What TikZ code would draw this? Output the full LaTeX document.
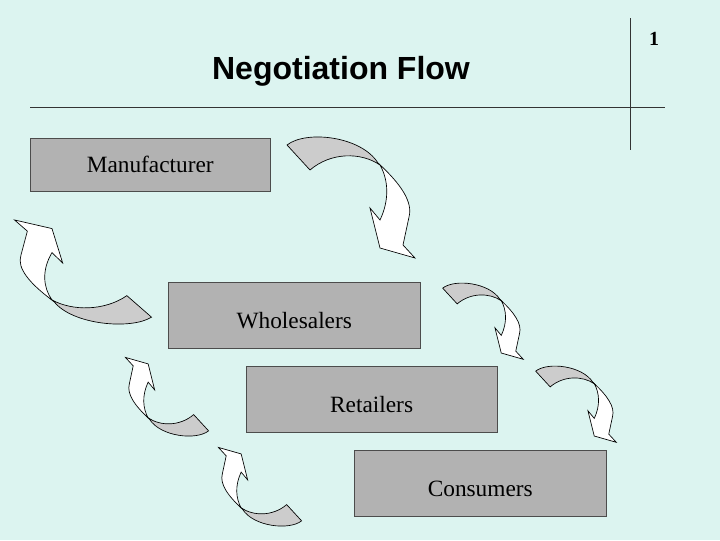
\documentclass[tikz,border=0pt]{standalone}
\usepackage{fontspec}
\setmainfont{Liberation Serif}
\newfontfamily\titlefont{Liberation Sans}
\begin{document}
\begin{tikzpicture}[x=0.75pt,y=-0.75pt,
  box/.style={draw=black!70,fill=black!30,minimum width=#1,anchor=north west,inner sep=0pt},
  lbl/.style={font=\fontsize{17.5}{20}\selectfont},
  ar/.style={draw=black,line width=0.5pt}]
\definecolor{bg}{RGB}{220,244,240}
\fill[bg] (0,0) rectangle (720,540);
\useasboundingbox (0,0) rectangle (720,540);
\newcommand{\curvarrow}{%
  \fill[white,ar] (27,-31) .. controls (50,-10) and (62,8) .. (58,23) -- (52,51) -- (64,64) -- (29,54) -- (19,14) -- (29,26) .. controls (39,5) and (37,-15) .. (29,-29) -- cycle;
  \fill[black!20,ar] (-64,-49) .. controls (-45,-64) and (10,-58) .. (27,-31) -- (29,-29) .. controls (10,-42) and (-20,-42) .. (-41,-24) -- cycle;}
\node[box=180pt,minimum height=39.75pt] (m) at (30,138) {};
\node[lbl] at (m.center) {Manufacturer};
\node[box=189pt,minimum height=49.5pt] (w) at (168,282) {};
\node[lbl] at ([yshift=-4pt]w.center) {Wholesalers};
\node[box=188pt,minimum height=49.5pt] (r) at (246,366) {};
\node[lbl] at ([yshift=-4pt]r.center) {Retailers};
\node[box=189pt,minimum height=49.5pt] (c) at (354,450) {};
\node[lbl] at ([yshift=-4pt]c.center) {Consumers};
\node[font=\titlefont\bfseries\fontsize{24}{28}\selectfont] (t) at (341,71) {Negotiation Flow};
\node[font=\bfseries\fontsize{15}{18}\selectfont] (n) at (654,39) {1};
\draw[black!80] (30,107) -- (665,107);
\draw[black!80] (630,18) -- (630,150);
\begin{scope}[shift={(351,194)}]\curvarrow\end{scope}
\begin{scope}[shift={(483,319)},scale=0.63]\curvarrow\end{scope}
\begin{scope}[shift={(576,402)},scale=0.63]\curvarrow\end{scope}
\begin{scope}[shift={(83,275)},rotate=180,xscale=1.07,yscale=0.86]\curvarrow\end{scope}
\begin{scope}[shift={(167,399)},rotate=180,scale=0.65]\curvarrow\end{scope}
\begin{scope}[shift={(260,489)},rotate=180,scale=0.65]\curvarrow\end{scope}
\end{tikzpicture}
\end{document}
